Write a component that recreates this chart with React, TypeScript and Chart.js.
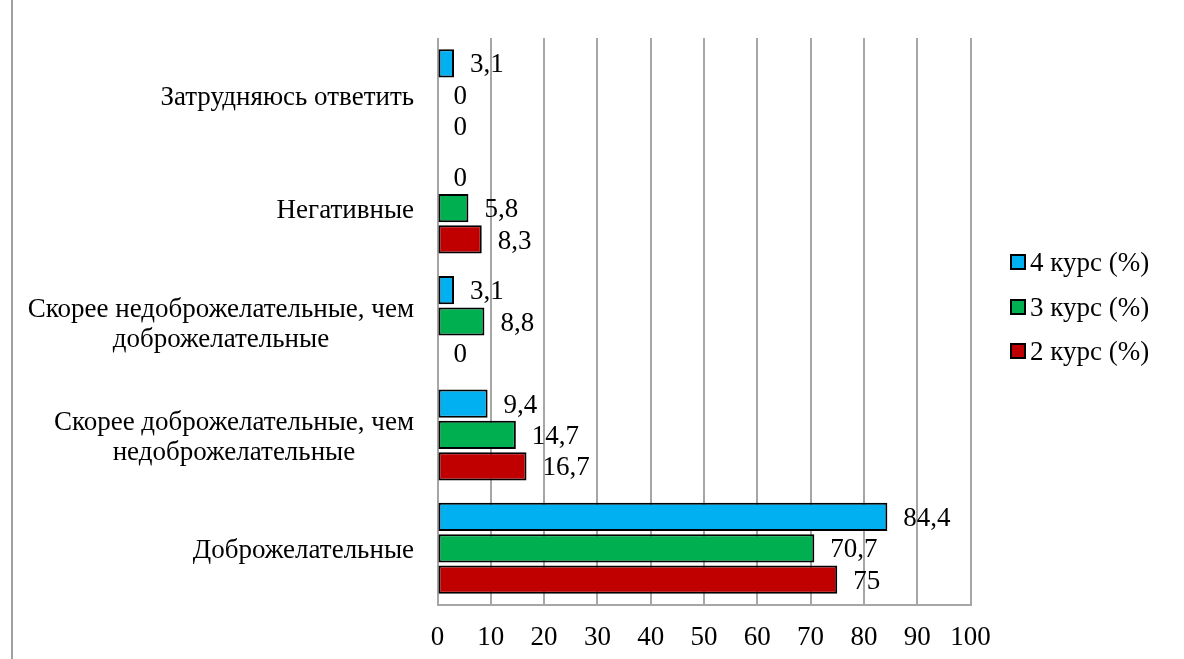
import React, { useEffect, useRef } from "react";
import { Chart, registerables } from "chart.js";

Chart.register(...registerables);

const categories: string[][] = [
  ["Затрудняюсь ответить"],
  ["Негативные"],
  ["Скорее недоброжелательные, чем", "доброжелательные"],
  ["Скорее доброжелательные, чем", "недоброжелательные"],
  ["Доброжелательные"],
];
const seriesLabels = ["4 курс (%)", "3 курс (%)", "2 курс (%)"];
const course4 = [3.1, 0, 3.1, 9.4, 84.4];
const course3 = [0, 5.8, 8.8, 14.7, 70.7];
const course2 = [0, 8.3, 0, 16.7, 75];
const xTicks = [0, 10, 20, 30, 40, 50, 60, 70, 80, 90, 100];
const colors = ["#00B0F0", "#00B050", "#C00000"];

const FONT = "'Liberation Serif', 'Times New Roman', serif";
const FONT_SIZE = 27;
const GRID = "#a6a6a6";

const fmt = (v: number) => String(v).replace(".", ",");

const customPlugin = {
  id: "custom",
  afterDatasetsDraw(chart: any) {
    const ctx = chart.ctx;
    ctx.save();
    ctx.font = `${FONT_SIZE}px ${FONT}`;
    ctx.fillStyle = "#000";
    ctx.textBaseline = "middle";
    ctx.textAlign = "left";
    chart.data.datasets.forEach((ds: any, di: number) => {
      const meta = chart.getDatasetMeta(di);
      meta.data.forEach((el: any, i: number) => {
        const v = ds.data[i];
        ctx.fillText(fmt(v), el.x + 16, el.y + 2);
      });
    });
    ctx.restore();
  },
  afterDraw(chart: any) {
    const ctx = chart.ctx;
    const yScale = chart.scales.y;
    ctx.save();
    ctx.font = `${FONT_SIZE}px ${FONT}`;
    ctx.fillStyle = "#000";
    ctx.textBaseline = "middle";
    ctx.textAlign = "center";
    const rightEdge = 414;
    const lineH = 30;
    categories.forEach((lines, i) => {
      const cy = yScale.getPixelForValue(i) + 3;
      const w = Math.max(...lines.map((l) => ctx.measureText(l).width));
      const cx = rightEdge - w / 2;
      const startY = cy - ((lines.length - 1) * lineH) / 2;
      lines.forEach((l, li) => ctx.fillText(l, cx, startY + li * lineH));
    });
    // legend
    const legX = 1011;
    const legY = [262, 307, 351];
    ctx.textAlign = "left";
    seriesLabels.forEach((lab, i) => {
      ctx.fillStyle = colors[i];
      ctx.fillRect(legX, legY[i] - 7, 14, 14);
      ctx.strokeStyle = "#000";
      ctx.lineWidth = 2;
      ctx.strokeRect(legX, legY[i] - 7, 14, 14);
      ctx.fillStyle = "#000";
      ctx.fillText(lab, 1030, legY[i] + 2);
    });
    ctx.restore();
  },
};

export default function App() {
  const ref = useRef<HTMLCanvasElement>(null);
  useEffect(() => {
    if (!ref.current) return;
    const series = [course4, course3, course2];
    const chart = new Chart(ref.current, {
      type: "bar",
      data: {
        labels: categories.map((c) => c.join(" ")),
        datasets: series.map((d, i) => ({
          label: seriesLabels[i],
          data: d,
          backgroundColor: colors[i],
          borderColor: "#000",
          borderWidth: (c: any) => (c.raw === 0 ? 0 : 2),
          borderSkipped: false,
          categoryPercentage: 0.83,
          barPercentage: 0.9,
        })),
      },
      options: {
        indexAxis: "y",
        animation: false,
        responsive: false,
        maintainAspectRatio: false,
        layout: { padding: { left: 437.5, right: 213.5, top: 38, bottom: 0 } },
        plugins: {
          legend: { display: false },
          tooltip: { enabled: false },
          title: { display: false },
        },
        scales: {
          x: {
            min: 0,
            max: 100,
            afterBuildTicks: (scale: any) => {
              scale.ticks = xTicks.map((v) => ({ value: v }));
            },
            afterFit: (scale: any) => {
              scale.height = 54;
            },
            grid: { color: GRID, lineWidth: 2, drawTicks: false },
            border: { display: true, color: GRID, width: 2 },
            ticks: {
              padding: 17,
              color: "#000",
              font: { family: FONT, size: FONT_SIZE },
              maxRotation: 0,
              autoSkip: false,
            },
          },
          y: {
            display: false,
          },
        },
      },
      plugins: [customPlugin],
    } as any);
    return () => chart.destroy();
  }, []);
  return (
    <div
      style={{
        position: "absolute",
        left: 0,
        top: 0,
        width: 1184,
        height: 659,
        background: "#fff",
        overflow: "hidden",
      }}
    >
      <div
        style={{
          position: "absolute",
          left: 11,
          top: 0,
          width: 2,
          height: 659,
          background: "#a0a0a0",
        }}
      />
      <canvas
        ref={ref}
        width={1184}
        height={659}
        style={{ position: "absolute", left: 0, top: 0, width: 1184, height: 659 }}
      />
    </div>
  );
}
